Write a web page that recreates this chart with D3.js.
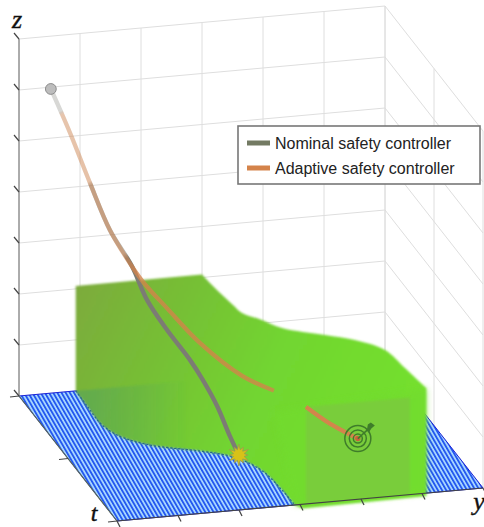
<!DOCTYPE html>
<html>
<head>
<meta charset="utf-8">
<script src="https://cdn.jsdelivr.net/npm/d3@7"></script>
<style>
  html, body { margin: 0; padding: 0; background: white; }
  svg { display: block; }
</style>
</head>
<body>
<div id="chart"></div>
<script>
// axis ticks, all normalised to the box
var tTicks = [0, 0.5, 1];
var yTicks = [0, 1/6, 2/6, 3/6, 4/6, 5/6, 1];
var zTicks = [0, 1/7, 2/7, 3/7, 4/7, 5/7, 6/7, 1];

// safe tube: edge on the floor and edge on the top of the tube
var tubeTop = 0.294;
var lowT = [0, 0.121, 0.256, 0.357, 0.454, 0.533, 0.59, 0.656, 0.741, 0.88, 1];
var lowY = [0.155, 0.154, 0.153, 0.172, 0.236, 0.352, 0.418, 0.453, 0.474, 0.483, 0.486];
var highT = [0, 0.093, 0.249, 0.315, 0.38, 0.454, 0.535, 0.592, 0.687, 0.835, 1];
var highY = [0.5, 0.505, 0.518, 0.525, 0.562, 0.597, 0.693, 0.759, 0.816, 0.831, 0.845];

// trajectories (null = hidden inside the tube)
var nominalT = [0, 0.08, 0.16, 0.24, 0.3, 0.35, 0.4, 0.45, 0.48, 0.52, 0.56, 0.6];
var nominalY = [0.087, 0.118, 0.151, 0.184, 0.228, 0.256, 0.297, 0.347, 0.374, 0.402, 0.426, 0.44];
var nominalZ = [0.852, 0.754, 0.639, 0.532, 0.448, 0.368, 0.298, 0.226, 0.178, 0.117, 0.045, 0.004];
var adaptiveT = [0, 0.08, 0.16, 0.24, 0.32, 0.38, 0.44, 0.52, 0.6, 0.7, null, 0.8, 0.9, 1];
var adaptiveY = [0.087, 0.118, 0.151, 0.184, 0.217, 0.237, 0.287, 0.355, 0.449, 0.509, null, 0.57, 0.609, 0.658];
var adaptiveZ = [0.852, 0.754, 0.639, 0.532, 0.464, 0.431, 0.373, 0.298, 0.225, 0.213, null, 0.197, 0.181, 0.17];

var legendLabels = ["Nominal safety controller", "Adaptive safety controller"];
var legendColors = ["#737a63", "#d4834a"];

var width = 484, height = 527;

// the box is an oblique projection, each axis adds its own pixel offset
var tx = d3.scaleLinear().domain([0, 1]).range([0, 98]);
var ty = d3.scaleLinear().domain([0, 1]).range([0, 125]);
var yx = d3.scaleLinear().domain([0, 1]).range([0, 366]);
var yy = d3.scaleLinear().domain([0, 1]).range([0, -33]);
var zy = d3.scaleLinear().domain([0, 1]).range([0, -357]);
var origin = [19, 396];

function px(t, y) { return origin[0] + tx(t) + yx(y); }
function py(t, y, z) { return origin[1] + ty(t) + yy(y) + zy(z); }
function pt(t, y, z) { return [px(t, y), py(t, y, z)]; }

var svg = d3.select("#chart").append("svg")
    .attr("width", width)
    .attr("height", height)
    .attr("viewBox", "0 0 " + width + " " + height);

var defs = svg.append("defs");

var hatch = defs.append("pattern")
    .attr("id", "hatch")
    .attr("width", 3.6)
    .attr("height", 4)
    .attr("patternUnits", "userSpaceOnUse")
    .attr("patternTransform", "rotate(-30)");
hatch.append("rect").attr("width", 3.6).attr("height", 4).attr("fill", "#aedcff");
hatch.append("rect").attr("width", 1.9).attr("height", 4).attr("fill", "#2458f0");

var grad = defs.append("linearGradient")
    .attr("id", "tube")
    .attr("gradientUnits", "userSpaceOnUse")
    .attr("x1", 76).attr("y1", 290)
    .attr("x2", 400).attr("y2", 440);
grad.append("stop").attr("offset", "0").attr("stop-color", "#7cab3c");
grad.append("stop").attr("offset", "0.3").attr("stop-color", "#76c035");
grad.append("stop").attr("offset", "0.6").attr("stop-color", "#72d630");
grad.append("stop").attr("offset", "1").attr("stop-color", "#74e02e");

var seeThrough = defs.append("linearGradient")
    .attr("id", "seeThrough")
    .attr("gradientUnits", "userSpaceOnUse")
    .attr("x1", 76).attr("y1", 0)
    .attr("x2", 190).attr("y2", 0);
seeThrough.append("stop").attr("offset", "0").attr("stop-color", "#3f9a70").attr("stop-opacity", 0.4);
seeThrough.append("stop").attr("offset", "1").attr("stop-color", "#3f9a70").attr("stop-opacity", 0);

defs.append("filter").attr("id", "soft")
    .append("feGaussianBlur").attr("stdDeviation", 1);
defs.append("filter").attr("id", "softer")
    .append("feGaussianBlur").attr("stdDeviation", 3);

function poly(points) {
    return "M" + points.map(function (p) { return p.join(","); }).join("L") + "Z";
}

// walls
var grid = svg.append("g")
    .attr("stroke", "#dedede")
    .attr("stroke-width", 1)
    .attr("fill", "none");
function seg(g, a, b) {
    g.append("line")
        .attr("x1", a[0]).attr("y1", a[1])
        .attr("x2", b[0]).attr("y2", b[1]);
}
zTicks.forEach(function (z) {
    seg(grid, pt(0, 0, z), pt(0, 1, z));
    seg(grid, pt(0, 1, z), pt(1, 1, z));
});
yTicks.forEach(function (y) { seg(grid, pt(0, y, 0), pt(0, y, 1)); });
tTicks.forEach(function (t) { seg(grid, pt(t, 1, 0), pt(t, 1, 1)); });

// floor
svg.append("path")
    .attr("d", poly([pt(0, 0, 0), pt(1, 0, 0), pt(1, 1, 0), pt(0, 1, 0)]))
    .attr("fill", "url(#hatch)")
    .attr("stroke", "#1a22d8")
    .attr("stroke-width", 1);

// tube silhouette
var lowEdge = lowT.map(function (t, i) { return pt(t, lowY[i], 0); });
var highEdge = highT.map(function (t, i) { return pt(t, highY[i], tubeTop); });
var frontLow = lowY[lowY.length - 1], frontHigh = highY[highY.length - 1];
var smooth = d3.line().curve(d3.curveCatmullRom);

svg.append("path")
    .attr("d", "M" + pt(0, lowY[0], tubeTop).join(",")
        + smooth(highEdge).replace("M", "L")
        + "L" + pt(1, frontHigh, -0.008).join(",")
        + "L" + pt(1, frontLow + 0.02, -0.012).join(",")
        + smooth(lowEdge.slice().reverse()).replace("M", "L")
        + "Z")
    .attr("fill", "url(#tube)")
    .attr("filter", "url(#soft)");

// jagged dark edge where the tube meets the hatched floor
svg.append("path")
    .attr("d", smooth(lowEdge))
    .attr("fill", "none")
    .attr("stroke", "#27668a")
    .attr("stroke-width", 1.2)
    .attr("stroke-dasharray", "2,2");

// floor seen through the tube near the back
svg.append("path")
    .attr("d", poly(lowEdge.slice(0, 6).concat([pt(0, 0.5, 0)])))
    .attr("fill", "url(#seeThrough)")
    .attr("filter", "url(#soft)");

// front of the tube
svg.append("path")
    .attr("d", poly([pt(1, frontLow - 0.057, tubeTop - 0.03), pt(1, frontHigh, tubeTop), pt(1, frontHigh, 0), pt(1, frontLow, 0)]))
    .attr("fill", "#72dc2e")
    .attr("opacity", 0.7)
    .attr("filter", "url(#softer)");
svg.append("path")
    .attr("d", poly([pt(1, 0.516, 0.272), pt(1, 0.8, 0.272), pt(1, 0.8, 0), pt(1, 0.516, 0)]))
    .attr("fill", "#79cd3a")
    .attr("filter", "url(#soft)");

// trajectories, faded where they are further away
var path3 = d3.line()
    .defined(function (d) { return d[0] !== null; })
    .x(function (d) { return px(d[0], d[1]); })
    .y(function (d) { return py(d[0], d[1], d[2]); })
    .curve(d3.curveCatmullRom);

var nominal = nominalT.map(function (t, i) { return [t, nominalY[i], nominalZ[i]]; });
var adaptive = adaptiveT.map(function (t, i) { return [t, adaptiveY[i], adaptiveZ[i]]; });

function fadeStops(id, stops) {
    var g = defs.append("linearGradient")
        .attr("id", id)
        .attr("gradientUnits", "userSpaceOnUse")
        .attr("x1", 51).attr("y1", 89).attr("x2", 135).attr("y2", 270);
    stops.forEach(function (s) {
        g.append("stop").attr("offset", s[0]).attr("stop-color", s[1]).attr("stop-opacity", s[2]);
    });
}
fadeStops("fadeNominal", [[0, "#7c7c74", 0.3], [0.13, "#7c7c74", 0.3], [0.14, "#7c7c74", 0.08], [0.5, "#7c7c74", 0.08], [0.52, "#7c7c74", 0.55], [0.9, "#7c7c74", 0.55], [0.93, "#7c7c74", 1], [1, "#7c7c74", 1]]);
fadeStops("fadeAdaptive", [[0, "#d4834a", 0], [0.12, "#d4834a", 0], [0.14, "#d4834a", 0.42], [0.92, "#d4834a", 0.5], [1, "#d4834a", 0.78]]);

svg.append("path")
    .attr("d", path3(nominal))
    .attr("fill", "none")
    .attr("stroke", "url(#fadeNominal)")
    .attr("stroke-width", 4.4);
svg.append("path")
    .attr("d", path3(adaptive))
    .attr("fill", "none")
    .attr("stroke", "url(#fadeAdaptive)")
    .attr("stroke-width", 4.2);
svg.append("path")
    .attr("d", path3(adaptive.slice(11)))
    .attr("fill", "none")
    .attr("stroke", "#d9804e")
    .attr("stroke-opacity", 0.75)
    .attr("stroke-width", 4);

// start marker
var start = pt(nominalT[0], nominalY[0], nominalZ[0]);
svg.append("circle")
    .attr("cx", start[0]).attr("cy", start[1]).attr("r", 5.4)
    .attr("fill", "#bdbdbd")
    .attr("stroke", "#8c8c8c")
    .attr("stroke-width", 1);

// collision burst at the end of the nominal run
var hit = pt(nominalT[11], nominalY[11], nominalZ[11]);
var spikes = d3.range(24).map(function (i) {
    var r = i % 2 === 0 ? (i % 4 === 0 ? 11 : 9) : 5.5;
    return [r, i * Math.PI / 12];
});
svg.append("path")
    .attr("transform", "translate(" + hit[0] + "," + hit[1] + ")")
    .attr("d", d3.lineRadial().angle(function (d) { return d[1]; }).radius(function (d) { return d[0]; })(spikes) + "Z")
    .attr("fill", "#d8c218")
    .attr("stroke", "#9a9a50")
    .attr("stroke-width", 0.8);

// target at the end of the adaptive run
var goal = pt(adaptiveT[13], adaptiveY[13], adaptiveZ[13]);
var target = svg.append("g")
    .attr("transform", "translate(" + goal[0] + "," + goal[1] + ")")
    .attr("fill", "none")
    .attr("stroke", "#3f7d2a")
    .attr("stroke-width", 1.5);
[4.5, 8.5, 13].forEach(function (r) { target.append("circle").attr("r", r); });
target.append("circle").attr("r", 2.6).attr("fill", "#c9603c").attr("stroke", "none");
target.append("line").attr("x1", 0).attr("y1", 0).attr("x2", 11).attr("y2", -10);
target.append("path")
    .attr("d", "M9,-8L10,-14L13,-16L17,-13L13.5,-10L11,-6Z")
    .attr("fill", "#3f7d2a")
    .attr("stroke", "none");

// axes
var axes = svg.append("g").attr("fill", "none");
function axisLine(a, b, color) {
    axes.append("line")
        .attr("x1", a[0]).attr("y1", a[1])
        .attr("x2", b[0]).attr("y2", b[1])
        .attr("stroke", color).attr("stroke-width", 1.2);
}
axisLine(pt(0, 0, 0), pt(0, 0, 1), "#7f7f7f");
axisLine(pt(0, 0, 0), pt(1, 0, 0), "#5a6a5a");
axisLine(pt(1, 0, 0), pt(1, 1, 0), "#444444");
zTicks.forEach(function (z) {
    var p = pt(0, 0, z);
    axisLine(p, [p[0] - 5, p[1] - 6], "#444444");
});
tTicks.forEach(function (t) {
    var p = pt(t, 0, 0);
    axisLine(p, [p[0] - 9, p[1] + 1], "#444444");
});
yTicks.forEach(function (y) {
    var p = pt(1, y, 0);
    axisLine(p, [p[0] + 3, p[1] + 6], "#444444");
});

// axis letters
function axisLabel(text, x, y, size) {
    svg.append("text")
        .attr("x", x).attr("y", y)
        .attr("font-family", "Liberation Serif")
        .attr("font-style", "italic")
        .attr("font-size", size)
        .attr("fill", "#111")
        .attr("stroke", "#111")
        .attr("stroke-width", 0.4)
        .attr("text-anchor", "middle")
        .text(text);
}
axisLabel("z", 17, 28, 26);
axisLabel("t", 94, 521, 24);
axisLabel("y", 479, 510, 26);

// legend
var legend = svg.append("g");
legend.append("rect")
    .attr("x", 238).attr("y", 126)
    .attr("width", 242).attr("height", 58)
    .attr("fill", "white")
    .attr("stroke", "#777")
    .attr("stroke-width", 1.6);
var legendY = d3.scalePoint().domain(legendLabels).range([143, 168]);
legendLabels.forEach(function (name, i) {
    legend.append("line")
        .attr("x1", 247).attr("x2", 270)
        .attr("y1", legendY(name)).attr("y2", legendY(name))
        .attr("stroke", legendColors[i])
        .attr("stroke-width", 5);
    legend.append("text")
        .attr("x", 275).attr("y", legendY(name) + 5.5)
        .attr("font-family", "Liberation Sans")
        .attr("font-size", 16)
        .attr("fill", "#222")
        .text(name);
});
</script>
</body>
</html>
